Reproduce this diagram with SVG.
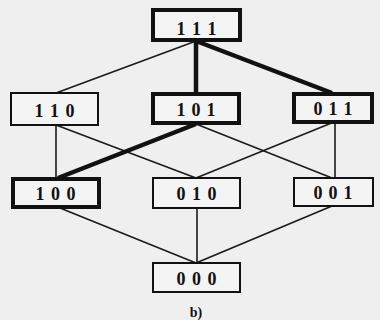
<svg xmlns="http://www.w3.org/2000/svg" width="380" height="320" viewBox="0 0 380 320">
  <style>
    .bg { fill: #efefef; }
    .box { fill: #f4f4f4; stroke: #111; stroke-width: 2; }
    .box.hi { stroke-width: 4; }
    .lbl { font-family: "Liberation Serif", "DejaVu Serif", serif; font-weight: bold; font-size: 18px; fill: #111; text-anchor: middle; }
    .edge { stroke: #1a1a1a; stroke-width: 1.6; fill: none; }
    .edge.hi { stroke-width: 4.5; stroke: #111; }
  </style>
  <rect class="bg" x="0" y="0" width="380" height="320"/>

  <!-- lattice connectors -->
  <g id="connectors">
    <line class="edge" x1="196" y1="41" x2="56" y2="93"/>
    <line class="edge hi" x1="196" y1="41" x2="196" y2="93"/>
    <line class="edge hi" x1="196" y1="41" x2="332" y2="93"/>
    <line class="edge" x1="56" y1="125" x2="56" y2="178"/>
    <line class="edge" x1="56" y1="125" x2="196" y2="178"/>
    <line class="edge hi" x1="196" y1="124" x2="58" y2="178"/>
    <line class="edge" x1="196" y1="124" x2="332" y2="178"/>
    <line class="edge" x1="334" y1="122" x2="196" y2="178"/>
    <line class="edge" x1="335" y1="122" x2="335" y2="178"/>
    <line class="edge" x1="60" y1="208" x2="196" y2="263"/>
    <line class="edge" x1="197" y1="208" x2="197" y2="263"/>
    <line class="edge" x1="332" y1="206" x2="196" y2="263"/>
  </g>

  <g id="n111">
    <rect class="box hi" x="153" y="10" width="87" height="30"/>
    <text class="lbl" x="181 196.5 212" y="35">111</text>
  </g>
  <g id="n110">
    <rect class="box" x="11" y="93" width="87" height="32"/>
    <text class="lbl" x="39 54.5 70" y="117">110</text>
  </g>
  <g id="n101">
    <rect class="box hi" x="153" y="94" width="86" height="29"/>
    <text class="lbl" x="181 196 211" y="116">101</text>
  </g>
  <g id="n011">
    <rect class="box hi" x="294" y="94" width="78" height="28"/>
    <text class="lbl" x="318 333 348" y="115">011</text>
  </g>
  <g id="n100">
    <rect class="box hi" x="13" y="179" width="86" height="28"/>
    <text class="lbl" x="40 55.5 71" y="200">100</text>
  </g>
  <g id="n010">
    <rect class="box" x="153" y="178" width="87" height="30"/>
    <text class="lbl" x="181 196.5 212" y="200">010</text>
  </g>
  <g id="n001">
    <rect class="box" x="294" y="178" width="79" height="28"/>
    <text class="lbl" x="318 333 348" y="199">001</text>
  </g>
  <g id="n000">
    <rect class="box" x="153" y="263" width="87" height="29"/>
    <text class="lbl" x="181 196.5 212" y="285">000</text>
  </g>

  <text class="lbl" x="196" y="317" style="font-size:14px">b)</text>
</svg>
